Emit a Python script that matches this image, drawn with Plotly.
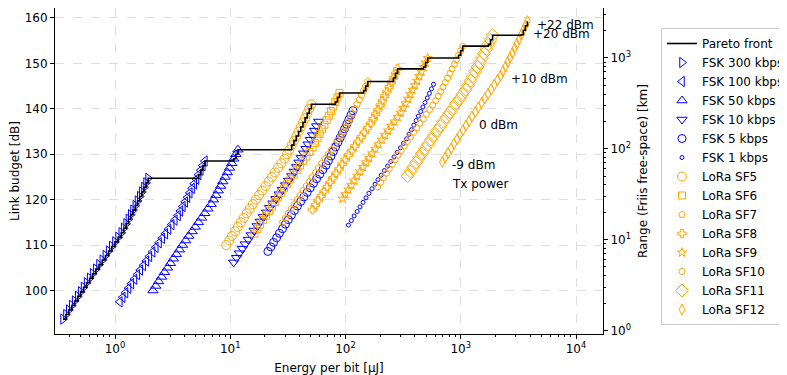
import numpy as np
import plotly.graph_objects as go

# ---------------- data ----------------
tx_power_dbm = [-9, -8, -7, -6, -5, -4, -3, -2, -1, 0, 1, 2, 3, 4, 5, 6,
                7, 8, 9, 10, 11, 12, 13, 14, 15, 16, 17, 18, 19, 20, 21, 22]
# radio power consumption for each Tx power setting [mW]
power_mw = [20.0, 21.2, 22.4, 23.8, 25.2, 26.8, 28.4, 30.1, 32.0, 34.0,
            36.1, 38.5, 41.0, 43.8, 46.6, 49.7, 52.9, 56.4, 60.0, 64.0,
            67.1, 70.5, 73.8, 77.3, 80.9, 84.7, 88.5, 92.5, 96.6, 100.7,
            105.0, 109.4]

series_names = ["FSK 300 kbps", "FSK 100 kbps", "FSK 50 kbps", "FSK 10 kbps",
                "FSK 5 kbps", "FSK 1 kbps", "LoRa SF5", "LoRa SF6", "LoRa SF7",
                "LoRa SF8", "LoRa SF9", "LoRa SF10", "LoRa SF11", "LoRa SF12"]
# receiver sensitivity [dBm]
series_sensitivity_dbm = [-102.7, -106.5, -109.0, -115.2, -117.6, -123.4,
                          -119.0, -121.5, -124.0, -126.8, -129.2, -131.8,
                          -134.2, -137.3]
# effective radio-on time per delivered bit [ms]
series_bit_time_ms = [0.0177, 0.055, 0.1065, 0.535, 1.06, 5.3,
                      0.4615, 0.81, 1.425, 2.585, 4.715, 9.5, 17.25, 34.65]

annot_powers = [-9, 0, 10, 20, 22]
annot_labels = ["-9 dBm", "0 dBm", "+10 dBm", "+20 dBm", "+22 dBm"]
freq_mhz = 868.0

x_tick_vals = [1, 10, 100, 1000, 10000]
x_tick_text = ["10<sup>0</sup>", "10<sup>1</sup>", "10<sup>2</sup>",
               "10<sup>3</sup>", "10<sup>4</sup>"]
y_tick_vals = [100, 110, 120, 130, 140, 150, 160]
y2_tick_vals = [1, 10, 100, 1000]
y2_tick_text = ["10<sup>0</sup>", "10<sup>1</sup>", "10<sup>2</sup>", "10<sup>3</sup>"]

# ---------------- styles ----------------
BLUE = "#0000ff"
ORANGE = "#ffa500"
styles = [
    ("triangle-right-open", 9, BLUE),
    ("triangle-left-open", 9, BLUE),
    ("triangle-up-open", 9, BLUE),
    ("triangle-down-open", 9, BLUE),
    ("circle-open", 8, BLUE),
    ("circle-open", 4, BLUE),
    ("circle-open", 9, ORANGE),
    ("square-open", 7, ORANGE),
    ("pentagon-open", 7, ORANGE),
    ("cross-open", 7, ORANGE),
    ("star-open", 7, ORANGE),
    ("circle-open", 6, ORANGE),
    ("diamond-open", 10, ORANGE),
    ("diamond-tall-open", 8, ORANGE),
]

FONT = "DejaVu Sans"
fig = go.Figure()

all_pts = []
series_xy = []
for name, sens, tb, (sym, size, col) in zip(series_names, series_sensitivity_dbm,
                                             series_bit_time_ms, styles):
    energy = [p * tb for p in power_mw]           # mW * ms = uJ
    budget = [t - sens for t in tx_power_dbm]     # dB
    series_xy.append((energy, budget))
    all_pts += list(zip(energy, budget))
    fig.add_trace(go.Scatter(
        x=energy, y=budget, mode="markers", name=name, legendrank=2,
        marker=dict(symbol=sym, size=size, color=col,
                    line=dict(color=col, width=1)),
    ))

# Pareto front: minimum energy for each reachable link budget
all_pts.sort(key=lambda p: (p[0], -p[1]))
px, py, best = [], [], -np.inf
for e, lb in all_pts:
    if lb > best:
        px.append(e)
        py.append(lb)
        best = lb
fig.add_trace(go.Scatter(x=px, y=py, mode="lines", name="Pareto front",
                         line=dict(color="black", width=1.6, shape="hv"),
                         legendrank=1))

y_range = [90.42, 162.2]
fspl_1km = 20 * np.log10(freq_mhz) + 32.44
fig.add_trace(go.Scatter(x=[], y=[], yaxis="y2", showlegend=False, hoverinfo="skip"))

# Tx power annotations next to the SF12 series
e12, b12 = series_xy[-1]
for pw, lab in zip(annot_powers, annot_labels):
    i = tx_power_dbm.index(pw)
    fig.add_annotation(x=np.log10(e12[i]), y=b12[i], text=lab, showarrow=False,
                       xanchor="left", yanchor="middle", xshift=8, yshift=-3.5,
                       font=dict(family=FONT, size=12, color="black"))
i = tx_power_dbm.index(-9)
fig.add_annotation(x=np.log10(e12[i]), y=b12[i], text="Tx power", showarrow=False,
                   xanchor="left", yanchor="middle", xshift=8, yshift=-22.5,
                   font=dict(family=FONT, size=12, color="black"))

grid = dict(showgrid=True, gridcolor="#dedede", griddash="dash", gridwidth=1)
axis_common = dict(showline=True, linecolor="black", linewidth=1, ticks="outside",
                   ticklen=4, tickwidth=1, tickcolor="black", zeroline=False,
                   tickfont=dict(family=FONT, size=12, color="black"))

# the page body has an 8px margin, so the figure is sized to end at the window edge
W, H, OFF = 787, 375, 8
fig.update_layout(
    width=W - OFF, height=H - OFF,
    margin=dict(l=55 - OFF, r=184, t=0, b=41, autoexpand=False),
    paper_bgcolor="white", plot_bgcolor="white",
    font=dict(family=FONT, size=12, color="black"),
    xaxis=dict(type="log", range=[-0.521, 4.234], tickvals=x_tick_vals,
               ticktext=x_tick_text, mirror=True,
               title=dict(text="Energy per bit [µJ]", standoff=9,
                          font=dict(family=FONT, size=12)),
               minor=dict(ticks="outside", ticklen=2, tickcolor="black",
                          dtick="D1", showgrid=False),
               **grid, **axis_common),
    yaxis=dict(range=y_range, tickvals=y_tick_vals,
               title=dict(text="Link budget [dB]", standoff=2,
                          font=dict(family=FONT, size=12)),
               **grid, **axis_common),
    yaxis2=dict(type="log", overlaying="y", side="right",
                range=[(y_range[0] - fspl_1km) / 20, (y_range[1] - fspl_1km) / 20],
                tickvals=y2_tick_vals, ticktext=y2_tick_text, showgrid=False,
                title=dict(text="Range (Friis free-space) [km]", standoff=8,
                           font=dict(family=FONT, size=12)),
                minor=dict(ticks="outside", ticklen=2, tickcolor="black",
                           dtick="D1", showgrid=False),
                **axis_common),
    legend=dict(xref="container", yref="container",
                x=(661 - OFF) / (W - OFF), y=1 - (30 - OFF - 2) / (H - OFF),
                xanchor="left", yanchor="top", bgcolor="white",
                bordercolor="#cccccc", borderwidth=1, maxheight=330,
                font=dict(family=FONT, size=12, color="black"),
                tracegroupgap=0),
    showlegend=True,
)

fig.write_html("out.html")
